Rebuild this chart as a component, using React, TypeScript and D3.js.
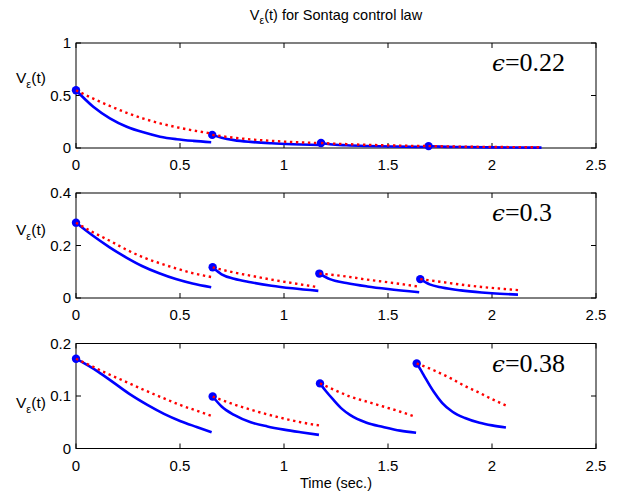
import React from "react";
import * as d3 from "d3";

const W = 624;
const H = 495;

const xTicks = [0, 0.5, 1, 1.5, 2, 2.5];
const xTickLabels = ["0", "0.5", "1", "1.5", "2", "2.5"];

const epsLabels = ["0.22", "0.3", "0.38"];
const yMaxes = [1, 0.4, 0.2];
const yTicks1 = [0, 0.5, 1];
const yTickLabels1 = ["0", "0.5", "1"];
const yTicks2 = [0, 0.2, 0.4];
const yTickLabels2 = ["0", "0.2", "0.4"];
const yTicks3 = [0, 0.1, 0.2];
const yTickLabels3 = ["0", "0.1", "0.2"];

type P = [number, number];

// Panel 1 (eps = 0.22)
const p1EventT = [0, 0.655, 1.178, 1.695];
const p1EventV = [0.55, 0.125, 0.047, 0.018];
const p1Blue: P[][] = [
  [[0, 0.55], [0.083, 0.393], [0.163, 0.283], [0.244, 0.203], [0.324, 0.149], [0.404, 0.108], [0.484, 0.084], [0.564, 0.068], [0.65, 0.055]],
  [[0.655, 0.125], [0.7, 0.098], [0.76, 0.075], [0.84, 0.058], [0.94, 0.045], [1.04, 0.036], [1.17, 0.028]],
  [[1.178, 0.047], [1.22, 0.036], [1.3, 0.026], [1.4, 0.019], [1.52, 0.014], [1.69, 0.01]],
  [[1.695, 0.018], [1.75, 0.013], [1.85, 0.009], [2.0, 0.006], [2.238, 0.004]],
];
const p1Red: P[][] = [
  [[0, 0.55], [0.083, 0.47], [0.163, 0.4], [0.244, 0.335], [0.324, 0.28], [0.404, 0.235], [0.484, 0.198], [0.564, 0.167], [0.65, 0.138]],
  [[0.655, 0.125], [0.75, 0.1], [0.84, 0.082], [0.94, 0.068], [1.04, 0.057], [1.17, 0.047]],
  [[1.178, 0.047], [1.3, 0.037], [1.42, 0.029], [1.55, 0.023], [1.69, 0.018]],
  [[1.695, 0.018], [1.85, 0.013], [2.0, 0.01], [2.238, 0.007]],
];

// Panel 2 (eps = 0.3)
const p2EventT = [0, 0.657, 1.17, 1.655];
const p2EventV = [0.287, 0.117, 0.093, 0.072];
const p2Blue: P[][] = [
  [[0, 0.287], [0.08, 0.238], [0.16, 0.194], [0.24, 0.155], [0.32, 0.121], [0.4, 0.094], [0.48, 0.072], [0.56, 0.055], [0.65, 0.041]],
  [[0.657, 0.117], [0.7, 0.09], [0.76, 0.073], [0.84, 0.06], [0.94, 0.047], [1.04, 0.037], [1.165, 0.027]],
  [[1.17, 0.093], [1.22, 0.072], [1.3, 0.057], [1.4, 0.044], [1.5, 0.034], [1.65, 0.022]],
  [[1.655, 0.072], [1.7, 0.052], [1.76, 0.04], [1.85, 0.029], [1.95, 0.021], [2.0, 0.018], [2.125, 0.013]],
];
const p2Red: P[][] = [
  [[0, 0.287], [0.08, 0.251], [0.16, 0.219], [0.24, 0.185], [0.32, 0.156], [0.4, 0.133], [0.48, 0.113], [0.56, 0.095], [0.65, 0.08]],
  [[0.657, 0.117], [0.76, 0.097], [0.84, 0.085], [0.94, 0.07], [1.04, 0.057], [1.165, 0.041]],
  [[1.17, 0.093], [1.3, 0.082], [1.4, 0.07], [1.5, 0.06], [1.65, 0.043]],
  [[1.655, 0.072], [1.75, 0.062], [1.85, 0.051], [1.95, 0.042], [2.05, 0.035], [2.125, 0.03]],
];

// Panel 3 (eps = 0.38)
const p3EventT = [0, 0.657, 1.173, 1.638];
const p3EventV = [0.171, 0.099, 0.124, 0.162];
const p3Blue: P[][] = [
  [[0, 0.171], [0.107, 0.146], [0.186, 0.124], [0.264, 0.102], [0.343, 0.083], [0.423, 0.066], [0.503, 0.052], [0.58, 0.041], [0.652, 0.031]],
  [[0.657, 0.099], [0.7, 0.08], [0.76, 0.064], [0.84, 0.05], [0.92, 0.042], [1.0, 0.036], [1.08, 0.031], [1.168, 0.026]],
  [[1.173, 0.124], [1.2, 0.11], [1.237, 0.093], [1.28, 0.075], [1.317, 0.064], [1.397, 0.049], [1.477, 0.041], [1.558, 0.034], [1.635, 0.03]],
  [[1.638, 0.162], [1.66, 0.148], [1.68, 0.134], [1.72, 0.108], [1.76, 0.087], [1.81, 0.07], [1.87, 0.058], [1.94, 0.049], [2.0, 0.044], [2.067, 0.04]],
];
const p3Red: P[][] = [
  [[0, 0.171], [0.08, 0.156], [0.16, 0.141], [0.24, 0.127], [0.33, 0.111], [0.42, 0.096], [0.5, 0.083], [0.58, 0.072], [0.652, 0.062]],
  [[0.657, 0.099], [0.76, 0.084], [0.84, 0.074], [0.92, 0.065], [1.0, 0.057], [1.08, 0.05], [1.168, 0.044]],
  [[1.173, 0.124], [1.24, 0.112], [1.317, 0.099], [1.4, 0.089], [1.477, 0.08], [1.56, 0.07], [1.635, 0.06]],
  [[1.638, 0.162], [1.72, 0.149], [1.8, 0.134], [1.87, 0.119], [1.94, 0.106], [2.0, 0.094], [2.067, 0.082]],
];

const panels = [
  { eps: epsLabels[0], yMax: yMaxes[0], yTicks: yTicks1, yLabels: yTickLabels1, evT: p1EventT, evV: p1EventV, blue: p1Blue, red: p1Red },
  { eps: epsLabels[1], yMax: yMaxes[1], yTicks: yTicks2, yLabels: yTickLabels2, evT: p2EventT, evV: p2EventV, blue: p2Blue, red: p2Red },
  { eps: epsLabels[2], yMax: yMaxes[2], yTicks: yTicks3, yLabels: yTickLabels3, evT: p3EventT, evV: p3EventV, blue: p3Blue, red: p3Red },
];

const LEFT = 76;
const RIGHT = 596;
const TOPS = [43, 193, 343.5];
const PH = 105;
const TICK = 5;
const FONT = "'Liberation Sans', Arial, Helvetica, sans-serif";
const SERIF = "'Liberation Serif', 'DejaVu Serif', serif";
const VLABEL_Y = [83, 235, 408];

export default function App() {
  const x = d3.scaleLinear().domain([0, 2.5]).range([LEFT, RIGHT]);
  return (
    <svg width={W} height={H} style={{ position: "absolute", left: 0, top: 0, background: "#fff" }}>
      <rect x={0} y={0} width={W} height={H} fill="#fff" />
      <text x={(LEFT + RIGHT) / 2} y={20} textAnchor="middle" fontFamily={FONT} fontSize={14.5}>
        V<tspan fontSize={10.5} dy={4}>ε</tspan>
        <tspan dy={-4}>(t) for Sontag control law</tspan>
      </text>
      {panels.map((p, i) => {
        const top = TOPS[i];
        const bottom = top + PH;
        const y = d3.scaleLinear().domain([0, p.yMax]).range([bottom, top]);
        const line = d3
          .line<P>()
          .x((d) => x(d[0]))
          .y((d) => y(d[1]))
          .curve(d3.curveMonotoneX);
        return (
          <g key={i}>
            <rect x={LEFT} y={top} width={RIGHT - LEFT} height={PH} fill="#fff" stroke="#000" strokeWidth={1} />
            {xTicks.map((t, k) => (
              <g key={"x" + k}>
                <line x1={x(t)} x2={x(t)} y1={bottom} y2={bottom - TICK} stroke="#000" strokeWidth={1} />
                <line x1={x(t)} x2={x(t)} y1={top} y2={top + TICK} stroke="#000" strokeWidth={1} />
                <text x={x(t)} y={bottom + 22} textAnchor="middle" fontFamily={FONT} fontSize={15}>
                  {xTickLabels[k]}
                </text>
              </g>
            ))}
            {p.yTicks.map((v, k) => (
              <g key={"y" + k}>
                <line x1={LEFT} x2={LEFT + TICK} y1={y(v)} y2={y(v)} stroke="#000" strokeWidth={1} />
                <line x1={RIGHT} x2={RIGHT - TICK} y1={y(v)} y2={y(v)} stroke="#000" strokeWidth={1} />
                <text x={LEFT - 5} y={y(v) + 5} textAnchor="end" fontFamily={FONT} fontSize={15}>
                  {p.yLabels[k]}
                </text>
              </g>
            ))}
            {p.blue.map((seg, k) => (
              <path key={"b" + k} d={line(seg) || ""} fill="none" stroke="#0000ff" strokeWidth={2.6} />
            ))}
            {p.evT.map((t, k) => (
              <circle key={"c" + k} cx={x(t)} cy={y(p.evV[k])} r={4.2} fill="#0000ff" />
            ))}
            {p.red.map((seg, k) => (
              <path key={"r" + k} d={line(seg) || ""} fill="none" stroke="#ff0000" strokeWidth={2.4} strokeDasharray="2.4 3.6" />
            ))}
            <text x={16} y={VLABEL_Y[i]} fontFamily={FONT} fontSize={15.5}>
              V<tspan fontSize={11} dy={5}>ε</tspan>
              <tspan dy={-5}>(t)</tspan>
            </text>
            <text x={492} y={top + 28} fontFamily={SERIF} fontSize={26}>
              <tspan fontFamily="'DejaVu Serif', serif" fontStyle="italic" fontSize={23}>ϵ</tspan>=
              {p.eps}
            </text>
          </g>
        );
      })}
      <text x={(LEFT + RIGHT) / 2} y={488} textAnchor="middle" fontFamily={FONT} fontSize={14.5}>
        Time (sec.)
      </text>
    </svg>
  );
}
